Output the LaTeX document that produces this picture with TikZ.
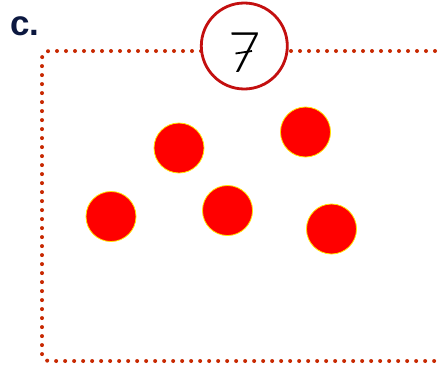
\documentclass[tikz,border=0pt]{standalone}
\usepackage{fontspec}
\newfontfamily\labelfont{Liberation Sans}
\newfontfamily\numfont{Lato}[UprightFont={* Light}]
\definecolor{dotred}{RGB}{200,40,0}
\definecolor{ballred}{RGB}{255,0,0}
\definecolor{ballrim}{RGB}{255,230,0}
\definecolor{navy}{RGB}{12,24,64}
\definecolor{ringred}{RGB}{195,15,15}
\begin{document}
\begin{tikzpicture}[x=1pt,y=-1pt,
  ball/.style={circle,fill=ballred,draw=ballrim,line width=0.8pt,minimum size=50pt,inner sep=0pt},
  frame/.style={draw=dotred,line width=4pt,line cap=round,dash pattern=on 0pt off 9pt,rounded corners=7pt},
  ring/.style={circle,draw=ringred,line width=2.8pt,fill=white,minimum size=86pt,inner sep=0pt}]
\useasboundingbox (0,0) rectangle (438,364);
\fill[white] (0,0) rectangle (438,364);
\draw[frame] (444,51) -- (42,51) -- (42,361) -- (444,361);
\node[ring] (num) at (244.3,46) {};
\node[font=\numfont\fontsize{56}{56}\selectfont, inner sep=0pt] (seven) at (245,53) {7};
\draw[line width=1.8pt] (235.5,53.5) -- (252,51);
\node[font=\labelfont\bfseries\fontsize{35}{35}\selectfont, text=navy, anchor=base west, inner sep=0pt] (lab) at (10,35) {c.};
\node[ball] (b1) at (179,148) {};
\node[ball] (b2) at (305.5,132) {};
\node[ball] (b3) at (111,216.5) {};
\node[ball] (b4) at (227.5,210.5) {};
\node[ball] (b5) at (331.5,229) {};
\end{tikzpicture}
\end{document}
